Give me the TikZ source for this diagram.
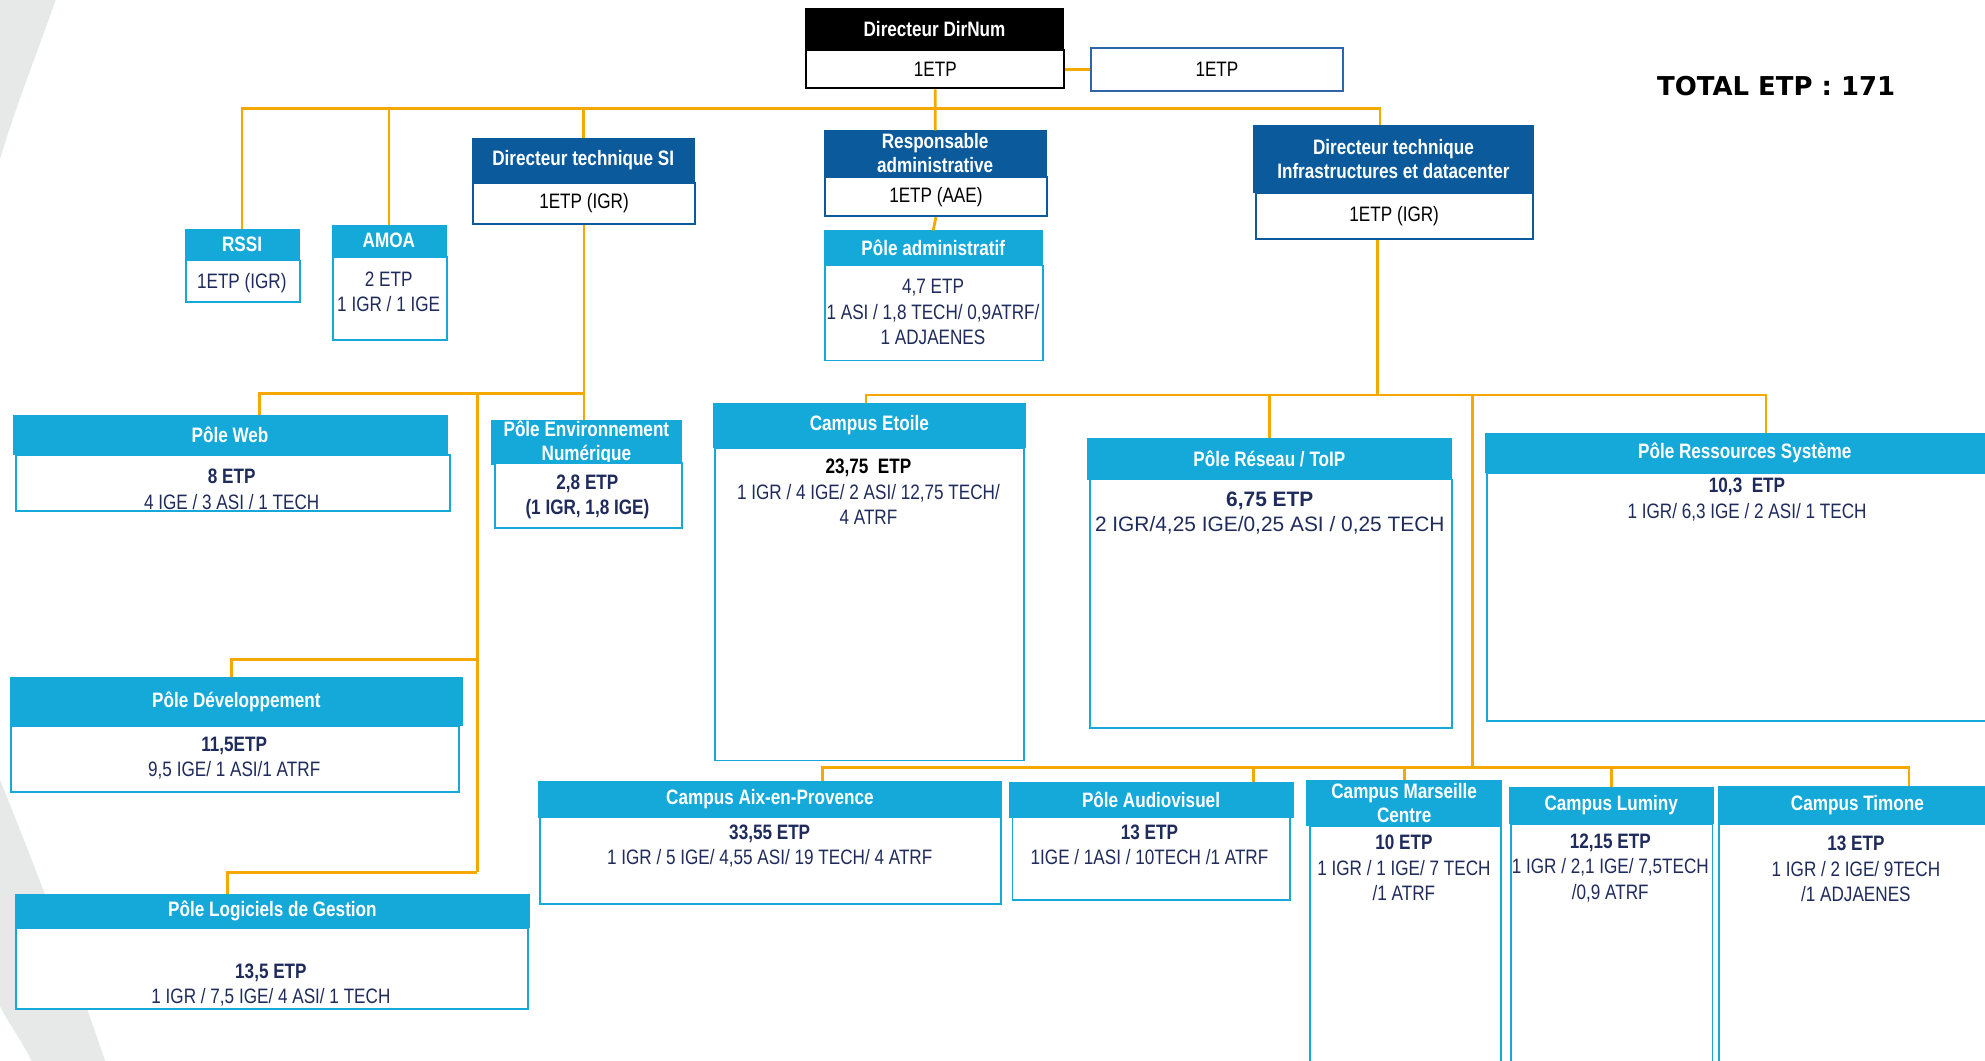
\documentclass[tikz,border=0pt]{standalone}
\usepackage{fontspec}
\setmainfont[FakeStretch=0.82]{Liberation Sans}
\newfontfamily\widefont{Liberation Sans}
\newfontfamily\totfont{DejaVu Sans}
\usetikzlibrary{calc}
\definecolor{dkblue}{HTML}{0B5A9C}
\definecolor{ltblue}{HTML}{14A9D9}
\definecolor{orng}{HTML}{F5A900}
\definecolor{navy}{HTML}{1F2B5B}
\definecolor{swoosh}{HTML}{E7E9E9}
\definecolor{etpblue}{HTML}{2E64A8}
\tikzset{
  box/.style 2 args={rectangle, inner sep=0pt, anchor=north west, minimum width=#1, minimum height=#2, align=center},
  hdK/.style={fill=black, draw=black, text=white, font=\bfseries\fontsize{16.5}{19}\selectfont},
  hdD/.style={fill=dkblue, draw=dkblue, text=white, font=\bfseries\fontsize{16.5}{19}\selectfont},
  hdL/.style={fill=ltblue, draw=ltblue, text=white, font=\bfseries\fontsize{16.5}{19}\selectfont},
  bodyK/.style={fill=white, draw=black, line width=1.6pt, text=black, font=\fontsize{16.5}{20}\selectfont},
  bodyD/.style={fill=white, draw=dkblue, line width=1.6pt, text=black, font=\fontsize{16.5}{20}\selectfont},
  bodyL/.style={fill=white, draw=ltblue, line width=1.5pt},
  etpbox/.style={fill=white, draw=etpblue, line width=1.6pt, text=black, font=\fontsize{16.5}{20}\selectfont},
  txt/.style={inner sep=0pt, align=center, text=navy, yshift=-1.5pt, font=\fontsize{16.5}{20}\selectfont},
  conn/.style={draw=orng, line width=2.2pt}
}
\begin{document}
\begin{tikzpicture}[x=1pt,y=-1pt]
\useasboundingbox (0,0) rectangle (1568,838);
\clip (0,0) rectangle (1568,838);
% background swooshes
\fill[swoosh] (0,0) -- (44,0) .. controls (30,40) and (12,85) .. (0,126) -- cycle;
\fill[swoosh] (0,616) .. controls (30,690) and (60,770) .. (83,838) -- (25,838) .. controls (17,822) and (8,810) .. (0,795) -- cycle;

% top level
\node[hdK, box={204}{33}] (dirH) at (636,6) {Directeur DirNum};
\node[bodyK, box={204}{30}] (dirB) at (636,39) {1ETP};
\node[etpbox, box={199}{34}] (etp) at (861,37) {1ETP};

\node[font=\totfont\bfseries\fontsize{20.5}{24}\selectfont, text=black] (total) at (1403,68) {TOTAL ETP : 171};

% RSSI / AMOA
\node[hdL, box={90}{24}] (rssiH) at (146,181) {RSSI};
\node[bodyL, box={90}{33}] (rssiB) at (146,205) {};
\node[txt] (rssiT) at (191,222) {1ETP (IGR)};

\node[hdL, box={90}{24}] (amoaH) at (262,178) {AMOA};
\node[bodyL, box={90}{66}] (amoaB) at (262,202) {};
\node[txt] (amoaT) at (307,229) {2 ETP\\1 IGR / 1 IGE};

% Directeur technique SI
\node[hdD, box={175}{35}] (dsiH) at (373,109) {Directeur technique SI};
\node[bodyD, box={175}{32}] (dsiB) at (373,144) {1ETP (IGR)};

% Responsable administrative
\node[hdD, box={175}{36}] (respH) at (651,103) {Responsable\\administrative};
\node[bodyD, box={175}{31}] (respB) at (651,139) {1ETP (AAE)};

\node[hdL, box={172}{27}] (admH) at (651,182) {Pôle administratif};
\node[bodyL, box={172}{75}] (admB) at (651,209) {};
\node[txt] (admT) at (737,245) {4,7 ETP\\1 ASI / 1,8 TECH/ 0,9ATRF/\\1 ADJAENES};

% Directeur technique Infra
\node[hdD, box={221}{53}] (ditH) at (990,99) {Directeur technique\\Infrastructures et datacenter};
\node[bodyD, box={219}{36}] (ditB) at (991,152) {1ETP (IGR)};

% SI poles
\node[hdL, box={343}{31}] (webH) at (10,328) {Pôle Web};
\node[bodyL, box={343}{44}] (webB) at (12,359) {};
\node[txt] (webT) at (183,385) {\textbf{8 ETP}\\4 IGE / 3 ASI / 1 TECH};

\node[hdL, box={150}{33}] (penH) at (388,332) {Pôle Environnement\\Numérique};
\node[bodyL, box={148}{51}] (penB) at (390,365) {};
\node[txt, font=\bfseries\fontsize{16.5}{20}\selectfont] (penT) at (464,391) {2,8 ETP\\(1 IGR, 1,8 IGE)};

\node[hdL, box={357}{38}] (devH) at (8,535) {Pôle Développement};
\node[bodyL, box={354}{52}] (devB) at (8,573) {};
\node[txt] (devT) at (185,597.5) {\textbf{11,5ETP}\\9,5 IGE/ 1 ASI/1 ATRF};

\node[hdL, box={406}{26}] (lgH) at (12,706) {Pôle Logiciels de Gestion};
\node[bodyL, box={404}{64}] (lgB) at (12,732) {};
\node[txt] (lgT) at (214,776.5) {\textbf{13,5 ETP}\\1 IGR / 7,5 IGE/ 4 ASI/ 1 TECH};

% Infra poles
\node[hdL, box={247}{35}] (etoH) at (563,318) {Campus Etoile};
\node[bodyL, box={244}{247}] (etoB) at (564,353) {};
\node[txt] (etoT) at (686,387) {\textcolor{black}{\textbf{23,75\ \ ETP}}\\1 IGR / 4 IGE/ 2 ASI/ 12,75 TECH/\\4 ATRF};

\node[hdL, box={287}{32}] (reH) at (859,346) {Pôle Réseau / ToIP};
\node[bodyL, box={286}{196}] (reB) at (860,378) {};
\node[txt, font=\widefont\fontsize{16.5}{20}\selectfont] (reT) at (1003,404) {\textbf{6,75 ETP}\\2 IGR/4,25 IGE/0,25 ASI / 0,25 TECH};

\node[hdL, box={410}{31}] (resH) at (1173,342) {Pôle Ressources Système};
\node[bodyL, box={410}{196}] (resB) at (1174,373) {};
\node[txt] (resT) at (1380,393) {\textbf{10,3\ \ ETP}\\1 IGR/ 6,3 IGE / 2 ASI/ 1 TECH};

\node[hdL, box={366}{28}] (aixH) at (425,617) {Campus Aix-en-Provence};
\node[bodyL, box={364}{68}] (aixB) at (426,645) {};
\node[txt] (aixT) at (608,667) {\textbf{33,55 ETP}\\1 IGR / 5 IGE/ 4,55 ASI/ 19 TECH/ 4 ATRF};

\node[hdL, box={224}{27}] (avH) at (797,618) {Pôle Audiovisuel};
\node[bodyL, box={219}{65}] (avB) at (799,645) {};
\node[txt] (avT) at (908,666) {\textbf{13 ETP}\\1IGE / 1ASI / 10TECH /1 ATRF};

\node[hdL, box={154}{36}] (marH) at (1032,616) {Campus Marseille\\Centre};
\node[bodyL, box={151}{200}] (marB) at (1034,652) {};
\node[txt] (marT) at (1109,684) {\textbf{10 ETP}\\1 IGR / 1 IGE/ 7 TECH\\/1 ATRF};

\node[hdL, box={161}{28}] (lumH) at (1192,622) {Campus Luminy};
\node[bodyL, box={159}{200}] (lumB) at (1193,650) {};
\node[txt] (lumT) at (1272,684) {\textbf{12,15 ETP}\\1 IGR / 2,1 IGE/ 7,5TECH\\/0,9 ATRF};

\node[hdL, box={220}{29}] (timH) at (1357,621) {Campus Timone};
\node[bodyL, box={220}{200}] (timB) at (1357,650) {};
\node[txt] (timT) at (1466,685) {\textbf{13 ETP}\\1 IGR / 2 IGE/ 9TECH\\/1 ADJAENES};

% connectors
\coordinate (bus1) at (738,86);
\draw[conn] (dirB.south) -- (respH.north);
\draw[conn] (dirB.east) -- (etp.west);
\draw[conn] (rssiH.north) |- (bus1) -| ($(ditH.north west)+(100,0)$);
\draw[conn] (amoaH.north) -- (amoaH.north |- bus1);
\draw[conn] (dsiH.north) -- (dsiH.north |- bus1);
\draw[conn] (respB.south) -- (admH.north);

\coordinate (si) at (461,311);
\coordinate (v1) at (377,311);
\coordinate (v3) at (377,521);
\coordinate (v2) at (377,689);
\draw[conn] (dsiB.south) -- (dsiB.south |- penH.north);
\draw[conn] ($(webH.north west)+(195,0)$) |- (si);
\draw[conn] (v1) -- (v2);
\draw[conn] ($(devH.north west)+(175,0)$) |- (v3);
\draw[conn] ($(lgH.north west)+(168,0)$) |- (v2);

\coordinate (inf) at (1088,312);
\coordinate (v4) at (1163,312);
\coordinate (bus3) at (1163,606);
\draw[conn] ($(ditB.south west)+(97,0)$) -- (inf);
\draw[conn] ($(etoH.north west)+(121,0)$) |- (inf) -| ($(resH.north west)+(222,0)$);
\draw[conn] (reH.north) -- (reH.north |- inf);
\draw[conn] (v4) -- (bus3);
\draw[conn] ($(aixH.north west)+(225,0)$) |- (bus3) -| ($(timH.north west)+(151,0)$);
\draw[conn] ($(avH.north west)+(193,0)$) |- (bus3);
\draw[conn] (marH.north) -- (marH.north |- bus3);
\draw[conn] (lumH.north) -- (lumH.north |- bus3);
\end{tikzpicture}
\end{document}
